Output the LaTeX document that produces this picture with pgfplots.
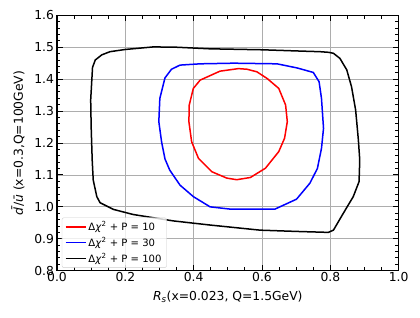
\documentclass[border=0pt]{standalone}
\usepackage{fontspec}
\setmainfont{DejaVu Sans}
\usepackage{pgfplots}
\pgfplotsset{compat=1.18}
\usetikzlibrary{calc}
\begin{document}
\begin{tikzpicture}
\begin{axis}[
  scale only axis, width=341.7bp, height=255.4bp,
  xmin=0, xmax=1, ymin=0.8, ymax=1.6,
  xtick={0,0.2,0.4,0.6,0.8,1.0},
  ytick={0.8,0.9,1.0,1.1,1.2,1.3,1.4,1.5,1.6},
  minor x tick num=3, minor y tick num=4,
  tick align=inside, tick pos=both,
  major tick length=6bp, minor tick length=3.5bp,
  every tick/.style={black, line width=0.9bp},
  grid=major, major grid style={black!32, line width=0.8bp},
  axis line style={line width=1.1bp},
  /pgf/number format/assume math mode=true,
  /pgf/number format/.cd, fixed, fixed zerofill, precision=1, /pgfplots/.cd,
  ticklabel style={font=\fontsize{12.4}{14}\selectfont},
  xticklabel style={yshift=2bp},
  yticklabel style={xshift=0.5bp},
  label style={font=\fontsize{12.4}{14}\selectfont},
  xlabel={\textit{R}\textsubscript{\textit{s}}(x=0.023, Q=1.5GeV)},
  ylabel={\textit{\=d}/\textit{\=u} (x=0.3,Q=100GeV)},
  xlabel style={at={(axis description cs:0.5,-0.103)}, anchor=center},
  ylabel style={at={(axis description cs:-0.1141,0.5)}, anchor=center},
  legend style={at={(0.014,0.011)}, anchor=south west, draw=black!20,
    rounded corners=2bp, fill=white, fill opacity=0.8, text opacity=1,
    font=\fontsize{10.1}{12}\selectfont, inner xsep=3bp, inner ysep=2bp,
    row sep=1.5bp},
  legend cell align=left,
  legend image code/.code={\draw[#1, line width=1.5bp] (0bp,0bp) -- (20bp,0bp);},
  every axis plot/.append style={line width=1.5bp, line join=round},
]
\addplot[red] coordinates {
(0.531,1.433) (0.556,1.431) (0.585,1.423) (0.615,1.402) (0.649,1.371)
(0.669,1.319) (0.674,1.267) (0.666,1.215) (0.649,1.173) (0.610,1.121)
(0.566,1.092) (0.526,1.085) (0.497,1.090) (0.453,1.110) (0.414,1.152)
(0.394,1.204) (0.386,1.267) (0.387,1.319) (0.399,1.371) (0.419,1.397)
(0.477,1.425) (0.531,1.433)
};
\addlegendentry{Δ\textit{χ}\textsuperscript{2} + P = 10}
\addplot[blue] coordinates {
(0.360,1.444) (0.419,1.448) (0.517,1.450) (0.644,1.448) (0.703,1.435)
(0.750,1.421) (0.767,1.392) (0.774,1.340) (0.780,1.246) (0.774,1.183)
(0.762,1.120) (0.740,1.074) (0.701,1.024) (0.638,0.993) (0.506,0.993)
(0.448,1.000) (0.399,1.032) (0.360,1.068) (0.330,1.115) (0.316,1.150)
(0.306,1.204) (0.298,1.267) (0.301,1.340) (0.316,1.404) (0.335,1.431)
(0.360,1.444)
};
\addlegendentry{Δ\textit{χ}\textsuperscript{2} + P = 30}
\addplot[black] coordinates {
(0.104,1.437) (0.112,1.460) (0.131,1.476) (0.155,1.486) (0.200,1.493)
(0.282,1.501) (0.350,1.500) (0.448,1.495) (0.600,1.492) (0.711,1.488)
(0.770,1.486) (0.795,1.484) (0.809,1.481) (0.828,1.465) (0.848,1.429)
(0.862,1.376) (0.874,1.303) (0.882,1.209) (0.886,1.147) (0.884,1.079)
(0.867,1.032) (0.838,0.980) (0.809,0.927) (0.794,0.920) (0.700,0.923)
(0.594,0.927) (0.448,0.943) (0.340,0.956) (0.223,0.976) (0.165,0.992)
(0.126,1.013) (0.1165,1.032) (0.106,1.084) (0.103,1.147) (0.100,1.250)
(0.0986,1.335) (0.104,1.437)
};
\addlegendentry{Δ\textit{χ}\textsuperscript{2} + P = 100}
\coordinate (SW) at (rel axis cs:0,0);
\coordinate (NE) at (rel axis cs:1,1);
\end{axis}
\pgfresetboundingbox
\path[use as bounding box] ($(SW)+(-57bp,-47.3bp)$) rectangle ($(NE)+(21.3bp,15.3bp)$);
\end{tikzpicture}
\end{document}
